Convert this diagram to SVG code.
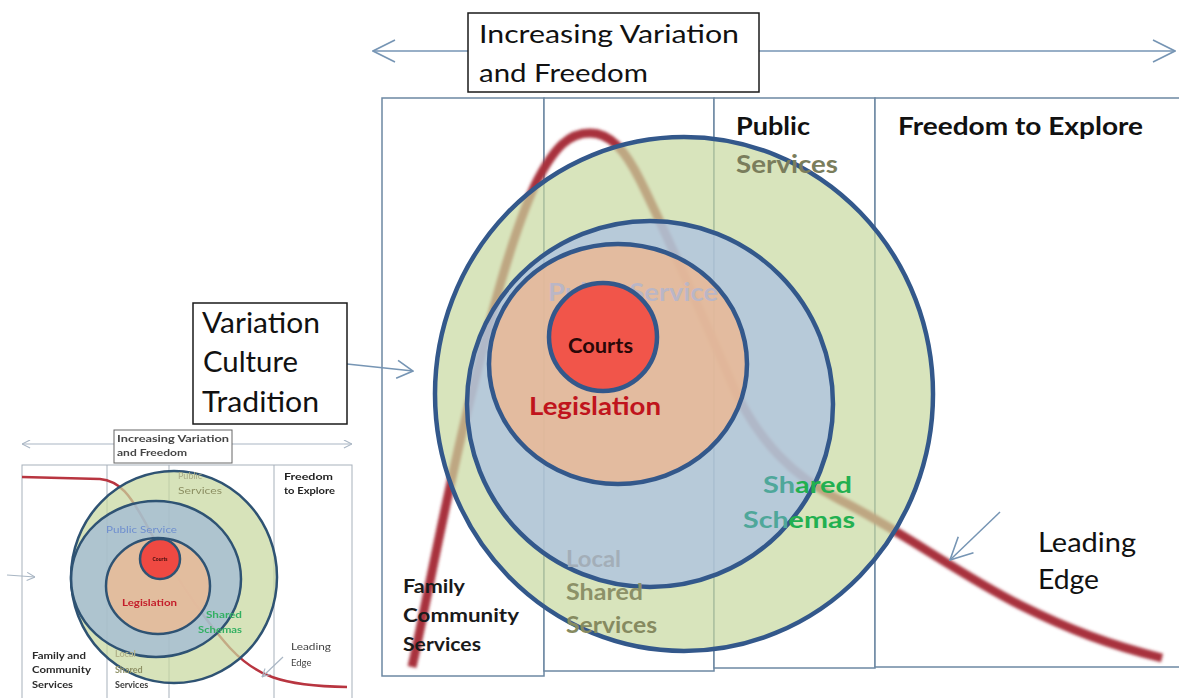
<svg xmlns="http://www.w3.org/2000/svg" width="1179" height="698" viewBox="0 0 1179 698">
<style>
.t{font-family:Lato,"Liberation Sans",sans-serif}
.b{font-weight:700}
.col{fill:#fff;stroke:#6c88a3;stroke-width:1.5}
.ring{stroke:#33588b;stroke-width:4.5}
.tring{stroke:#2f5273;stroke-width:2.5}
.tcol{fill:none;stroke:#a7b1bb;stroke-width:1}
.conn{fill:none;stroke:#7695b4;stroke-width:1.5}
.tconn{fill:none;stroke:#a9b6c4;stroke-width:1.2}
</style>
<defs>
<filter id="blur" x="-5%" y="-5%" width="110%" height="110%"><feGaussianBlur stdDeviation="1.6"/></filter>
<filter id="soft" x="-2%" y="-2%" width="104%" height="104%"><feGaussianBlur stdDeviation="0.45"/></filter>
<marker id="ah" viewBox="0 0 24 24" refX="23" refY="12" markerWidth="24" markerHeight="24" markerUnits="userSpaceOnUse" orient="auto-start-reverse"><path d="M1,1 L23,12 L1,23" fill="none" stroke="#7695b4" stroke-width="1.6"/></marker>
<marker id="ah2" viewBox="0 0 18 20" refX="17" refY="10" markerWidth="18" markerHeight="20" markerUnits="userSpaceOnUse" orient="auto"><path d="M1,1 L17,10 L1,19" fill="none" stroke="#7695b4" stroke-width="1.6"/></marker>
<marker id="tah" viewBox="0 0 10 10" refX="9.5" refY="5" markerWidth="9" markerHeight="9" markerUnits="userSpaceOnUse" orient="auto-start-reverse"><path d="M0.5,0.5 L9.5,5 L0.5,9.5" fill="none" stroke="#a9b6c4" stroke-width="1.2"/></marker>
</defs>
<rect width="1179" height="698" fill="#fff"/>

<!-- ===== Thumbnail (earlier version) ===== -->
<g id="thumbnail" filter="url(#soft)">
  <g id="thumb-frame">
    <rect class="tcol" x="22" y="465" width="330" height="240"/>
    <line class="tcol" x1="107" y1="465" x2="107" y2="698"/>
    <line class="tcol" x1="169" y1="465" x2="169" y2="698"/>
    <line class="tcol" x1="274" y1="465" x2="274" y2="698"/>
  </g>
  <path id="thumb-curve" d="M22,477 L100,479 C120,481 130,495 145,522 C165,560 200,615 230,648 C255,675 280,686 347,687" fill="none" stroke="#b8343f" stroke-width="2.5"/>
  <g id="thumb-rings">
    <ellipse class="tring" cx="174" cy="577" rx="103" ry="106" fill="rgb(199,216,159)" fill-opacity="0.72"/>
    <ellipse class="tring" cx="156" cy="579" rx="85" ry="78" fill="rgb(160,186,214)" fill-opacity="0.75"/>
    <text class="t" x="106" y="533" font-size="9" fill="#6f8fcf" textLength="71" lengthAdjust="spacingAndGlyphs">Public Service</text>
    <ellipse class="tring" cx="158" cy="586" rx="52" ry="48" fill="rgb(236,188,150)" fill-opacity="0.85"/>
    <circle class="tring" cx="160" cy="559" r="20" fill="#ef4a42"/>
  </g>
  <g id="thumb-labels">
    <text class="t b" x="160" y="561" font-size="5" fill="#3a0a0a" text-anchor="middle">Courts</text>
    <text class="t b" x="122" y="606" font-size="9" fill="#c41e2a" textLength="55" lengthAdjust="spacingAndGlyphs">Legislation</text>
    <text class="t" x="178" y="479" font-size="9" fill="#a9ab86">Public</text>
    <text class="t" x="178" y="494" font-size="9" fill="#8d9064" textLength="44" lengthAdjust="spacingAndGlyphs">Services</text>
    <text class="t b" x="284" y="480" font-size="9.5" fill="#222" textLength="49" lengthAdjust="spacingAndGlyphs">Freedom</text>
    <text class="t b" x="284" y="494" font-size="9.5" fill="#222" textLength="51" lengthAdjust="spacingAndGlyphs">to Explore</text>
    <text class="t b" x="206" y="618" font-size="9" fill="#33b063" textLength="36" lengthAdjust="spacingAndGlyphs">Shared</text>
    <text class="t b" x="198" y="633" font-size="9" fill="#33b063" textLength="44" lengthAdjust="spacingAndGlyphs">Schemas</text>
    <text class="t" x="291" y="650" font-size="9.5" fill="#444" textLength="40" lengthAdjust="spacingAndGlyphs">Leading</text>
    <text class="t" x="291" y="666" font-size="9.5" fill="#444">Edge</text>
    <text class="t b" x="32" y="659" font-size="9" fill="#2a2a2a" textLength="54" lengthAdjust="spacingAndGlyphs">Family and</text>
    <text class="t b" x="32" y="673" font-size="9" fill="#2a2a2a" textLength="59" lengthAdjust="spacingAndGlyphs">Community</text>
    <text class="t b" x="32" y="688" font-size="9" fill="#2a2a2a" textLength="41" lengthAdjust="spacingAndGlyphs">Services</text>
    <text class="t b" x="115" y="657" font-size="9" fill="#b3b48c">Local</text>
    <text class="t b" x="115" y="673" font-size="9" fill="#8f9166">Shared</text>
    <text class="t b" x="115" y="688" font-size="9" fill="#3a3a3a">Services</text>
  </g>
  <g id="thumb-connectors">
    <line class="tconn" x1="22" y1="444" x2="352" y2="444" marker-start="url(#tah)" marker-end="url(#tah)"/>
    <line class="tconn" x1="7" y1="575" x2="35" y2="577" marker-end="url(#tah)"/>
    <line class="tconn" x1="283" y1="657" x2="262" y2="677" marker-end="url(#tah)"/>
  </g>
  <g id="thumb-title">
    <rect x="114" y="430" width="118" height="33" fill="#fff" stroke="#666" stroke-width="1"/>
    <text class="t b" x="117" y="442" font-size="9.5" fill="#444" textLength="112" lengthAdjust="spacingAndGlyphs">Increasing Variation</text>
    <text class="t b" x="117" y="456" font-size="9.5" fill="#444" textLength="70" lengthAdjust="spacingAndGlyphs">and Freedom</text>
  </g>
</g>

<!-- ===== Main diagram ===== -->
<g id="columns">
  <rect id="col-family" class="col" x="382" y="98" width="162" height="578"/>
  <rect id="col-local" class="col" x="544" y="98" width="170" height="573"/>
  <rect id="col-public" class="col" x="714" y="98" width="161" height="570"/>
  <rect id="col-freedom" class="col" x="875" y="98" width="320" height="569"/>
</g>

<g id="leading-edge-curve">
  <path d="M412,667 C425,610 445,500 470,400 C490,320 510,240 535,185 C555,145 570,133 590,133 C610,133 625,150 640,180 C665,230 700,310 737,395 C760,440 790,475 840,500 C900,530 960,575 1020,605 C1070,630 1110,645 1162,658" fill="none" stroke="#a8303c" stroke-width="9" filter="url(#blur)"/>
</g>

<g id="ring-public-services">
  <ellipse class="ring" cx="684" cy="394" rx="249" ry="257" fill="rgb(199,216,159)" fill-opacity="0.7"/>
</g>
<g id="ring-public-service">
  <circle class="ring" cx="650" cy="404" r="183" fill="rgb(169,191,229)" fill-opacity="0.7"/>
</g>
<g id="ring-legislation">
  <ellipse class="ring" cx="618" cy="364" rx="129" ry="120" fill="rgb(244,182,136)" fill-opacity="0.72"/>
  <text class="t b" x="548" y="301" font-size="25" fill="#bab6c6" textLength="170" lengthAdjust="spacingAndGlyphs">Public Service</text>
</g>
<g id="courts">
  <circle class="ring" cx="603" cy="337" r="54" fill="#f1554a"/>
  <text class="t b" x="568" y="353" font-size="20" fill="#2a0808" textLength="65" lengthAdjust="spacingAndGlyphs">Courts</text>
</g>

<g id="labels">
  <text class="t b" x="529" y="415" font-size="25" fill="#c0141c" textLength="132" lengthAdjust="spacingAndGlyphs">Legislation</text>
  <text class="t b" x="736" y="135" font-size="25" fill="#111" textLength="74" lengthAdjust="spacingAndGlyphs">Public</text>
  <text class="t b" x="736" y="173" font-size="25" fill="#7a7d5c" textLength="102" lengthAdjust="spacingAndGlyphs">Services</text>
  <text class="t b" x="898" y="135" font-size="25" fill="#111" textLength="245" lengthAdjust="spacingAndGlyphs">Freedom to Explore</text>
  <text class="t b" x="763" y="493" font-size="23" textLength="89" lengthAdjust="spacingAndGlyphs"><tspan fill="#4fa79a">Sh</tspan><tspan fill="#22b050">ared</tspan></text>
  <text class="t b" x="743" y="528" font-size="23" textLength="112" lengthAdjust="spacingAndGlyphs"><tspan fill="#4fa79a">Sch</tspan><tspan fill="#22b050">emas</tspan></text>
  <text class="t b" x="566" y="567" font-size="23" fill="#a3aeb8" textLength="55" lengthAdjust="spacingAndGlyphs">Local</text>
  <text class="t b" x="566" y="600" font-size="23" fill="#8c9168" textLength="77" lengthAdjust="spacingAndGlyphs">Shared</text>
  <text class="t b" x="566" y="633" font-size="23" fill="#868a60" textLength="91" lengthAdjust="spacingAndGlyphs">Services</text>
  <text class="t b" x="403" y="593" font-size="18" fill="#1a1a1a" textLength="62" lengthAdjust="spacingAndGlyphs">Family</text>
  <text class="t b" x="403" y="622" font-size="18" fill="#1a1a1a" textLength="116" lengthAdjust="spacingAndGlyphs">Community</text>
  <text class="t b" x="403" y="651" font-size="18" fill="#1a1a1a" textLength="78" lengthAdjust="spacingAndGlyphs">Services</text>
  <text class="t" x="1038" y="552" font-size="26" fill="#111" textLength="98" lengthAdjust="spacingAndGlyphs">Leading</text>
  <text class="t" x="1038" y="589" font-size="26" fill="#111" textLength="61" lengthAdjust="spacingAndGlyphs">Edge</text>
</g>

<g id="connectors">
  <line class="conn" x1="373" y1="51" x2="1175" y2="51" marker-start="url(#ah)" marker-end="url(#ah)"/>
  <line class="conn" x1="347" y1="364" x2="413" y2="371" marker-end="url(#ah2)"/>
  <line class="conn" x1="1000" y1="512" x2="950" y2="560" marker-end="url(#ah)"/>
</g>

<g id="title-box">
  <rect x="468" y="13" width="291" height="79" fill="#fff" stroke="#1a1a1a" stroke-width="1.5"/>
  <text class="t" x="479" y="43" font-size="25" fill="#111" textLength="260" lengthAdjust="spacingAndGlyphs">Increasing Variation</text>
  <text class="t" x="479" y="82" font-size="25" fill="#111" textLength="169" lengthAdjust="spacingAndGlyphs">and Freedom</text>
</g>

<g id="variation-box">
  <rect x="193" y="303" width="154" height="121" fill="#fff" stroke="#1a1a1a" stroke-width="1.5"/>
  <text class="t" x="202" y="333" font-size="28" fill="#111" textLength="118" lengthAdjust="spacingAndGlyphs">Variation</text>
  <text class="t" x="203" y="372" font-size="28" fill="#111" textLength="95" lengthAdjust="spacingAndGlyphs">Culture</text>
  <text class="t" x="202" y="412" font-size="28" fill="#111" textLength="117" lengthAdjust="spacingAndGlyphs">Tradition</text>
</g>
</svg>
